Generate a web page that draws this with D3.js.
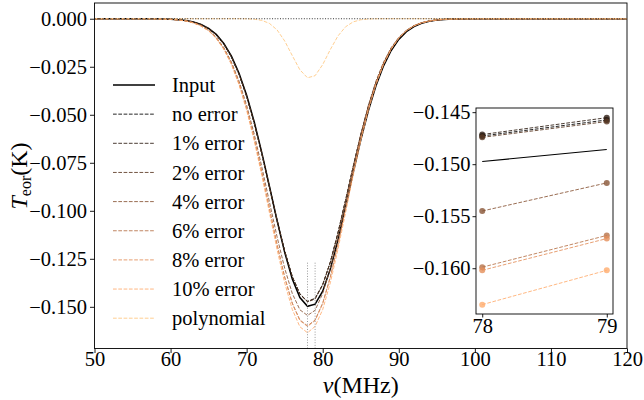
<!DOCTYPE html>
<html><head><meta charset="utf-8">
<script src="https://cdn.jsdelivr.net/npm/d3@7"></script>
<style>
body{margin:0;background:#fff}
svg{display:block}
text{font-family:"Liberation Serif","Times New Roman",serif;fill:#000}
</style>
</head><body>
<svg id="chart" width="644" height="400"></svg>
<script>
// ---------- data ----------
const freq = [50,51,52,53,54,55,56,57,58,59,60,61,62,63,64,65,66,67,68,69,70,71,72,73,74,75,76,77,78,79,80,81,82,83,84,85,86,87,88,89,90,91,92,93,94,95,96,97,98,99,100,101,102,103,104,105,106,107,108,109,110,111,112,113,114,115,116,117,118,119,120];

const inputT = [0,0,0,0,0,0,0,0,
 -0.00005,-0.00012,-0.00024,-0.00047,-0.0009,-0.00165,-0.00293,-0.00498,-0.00815,-0.01284,-0.01945,-0.02838,-0.03981,-0.05377,-0.06986,-0.08734,-0.10507,-0.12162,-0.13548,-0.1452,-0.14974,-0.14859,-0.14188,-0.13036,-0.11525,-0.09804,-0.08025,-0.0632,-0.0479,-0.03493,-0.02451,-0.01655,-0.01075,-0.00672,-0.00404,-0.00234,-0.0013,-0.0007,-0.00036,-0.00018,-0.00009,-0.00004,
 0,0,0,0,0,0,0,0,0,0,0,0,0,0,0,0,0,0,0,0,0];

const noError = [0,0,0,0,0,0,0,0,
 -0.00006,-0.00012,-0.00025,-0.0005,-0.00094,-0.00172,-0.00304,-0.00515,-0.00839,-0.01317,-0.01989,-0.02889,-0.04039,-0.05433,-0.07032,-0.08758,-0.10495,-0.12103,-0.13429,-0.14337,-0.14729,-0.14575,-0.13849,-0.12675,-0.11162,-0.09459,-0.07713,-0.06052,-0.04569,-0.03319,-0.0232,-0.0156,-0.0101,-0.00629,-0.00377,-0.00217,-0.00121,-0.00064,-0.00033,-0.00016,-0.00008,-0.00004,
 0,0,0,0,0,0,0,0,0,0,0,0,0,0,0,0,0,0,0,0,0];

const err1 = [0,0,0,0,0,0,0,0,
 -0.00006,-0.00012,-0.00025,-0.0005,-0.00094,-0.00172,-0.00304,-0.00515,-0.00839,-0.01317,-0.01989,-0.02889,-0.04039,-0.05433,-0.07032,-0.08758,-0.10495,-0.12103,-0.13429,-0.14322,-0.14715,-0.14553,-0.1383,-0.12675,-0.11162,-0.09459,-0.07713,-0.06052,-0.04569,-0.03319,-0.0232,-0.0156,-0.0101,-0.00629,-0.00377,-0.00217,-0.00121,-0.00064,-0.00033,-0.00016,-0.00008,-0.00004,
 0,0,0,0,0,0,0,0,0,0,0,0,0,0,0,0,0,0,0,0,0];

const err2 = [0,0,0,0,0,0,0,0,
 -0.00006,-0.00012,-0.00025,-0.0005,-0.00094,-0.00172,-0.00304,-0.00515,-0.00839,-0.01317,-0.01989,-0.02889,-0.04039,-0.05433,-0.07032,-0.08758,-0.10495,-0.12103,-0.13429,-0.1435,-0.14742,-0.1459,-0.13865,-0.12675,-0.11162,-0.09459,-0.07713,-0.06052,-0.04569,-0.03319,-0.0232,-0.0156,-0.0101,-0.00629,-0.00377,-0.00217,-0.00121,-0.00064,-0.00033,-0.00016,-0.00008,-0.00004,
 0,0,0,0,0,0,0,0,0,0,0,0,0,0,0,0,0,0,0,0,0];

const err4 = [0,0,0,0,0,0,0,0,
 -0.00007,-0.00015,-0.0003,-0.00059,-0.00112,-0.00203,-0.00355,-0.00597,-0.00966,-0.01504,-0.02253,-0.03248,-0.04506,-0.06015,-0.07725,-0.09547,-0.11354,-0.12992,-0.14305,-0.15155,-0.1545,-0.1518,-0.14305,-0.12992,-0.11354,-0.09547,-0.07725,-0.06015,-0.04506,-0.03248,-0.02253,-0.01504,-0.00966,-0.00597,-0.00355,-0.00203,-0.00112,-0.00059,-0.0003,-0.00015,-0.00007,-0.00003,
 0,0,0,0,0,0,0,0,0,0,0,0,0,0,0,0,0,0,0,0,0];

const err6 = [0,0,0,0,0,0,0,0,
 -0.00007,-0.00015,-0.00031,-0.00061,-0.00116,-0.0021,-0.00367,-0.00618,-0.01,-0.01557,-0.02332,-0.03362,-0.04664,-0.06225,-0.07995,-0.09881,-0.11751,-0.13446,-0.14805,-0.15685,-0.1599,-0.15685,-0.14805,-0.13446,-0.11751,-0.09881,-0.07995,-0.06225,-0.04664,-0.03362,-0.02332,-0.01557,-0.01,-0.00618,-0.00367,-0.0021,-0.00116,-0.00061,-0.00031,-0.00015,-0.00007,-0.00003,
 0,0,0,0,0,0,0,0,0,0,0,0,0,0,0,0,0,0,0,0,0];

const err8 = [0,0,0,0,0,0,0,0,
 -0.00007,-0.00015,-0.00031,-0.00061,-0.00116,-0.00211,-0.00368,-0.00619,-0.01002,-0.0156,-0.02336,-0.03368,-0.04673,-0.06236,-0.0801,-0.099,-0.11773,-0.13471,-0.14833,-0.15715,-0.1602,-0.15715,-0.14833,-0.13471,-0.11773,-0.099,-0.0801,-0.06236,-0.04673,-0.03368,-0.02336,-0.0156,-0.01002,-0.00619,-0.00368,-0.00211,-0.00116,-0.00061,-0.00031,-0.00015,-0.00007,-0.00003,
 0,0,0,0,0,0,0,0,0,0,0,0,0,0,0,0,0,0,0,0,0];

const err10 = [0,0,0,0,0,0,0,0,
 -0.00007,-0.00016,-0.00032,-0.00063,-0.00118,-0.00215,-0.00376,-0.00632,-0.01022,-0.01592,-0.02384,-0.03438,-0.04769,-0.06365,-0.08175,-0.10104,-0.12015,-0.13749,-0.15138,-0.16038,-0.1635,-0.1602,-0.15138,-0.13749,-0.12015,-0.10104,-0.08175,-0.06365,-0.04769,-0.03438,-0.02384,-0.01592,-0.01022,-0.00632,-0.00376,-0.00215,-0.00118,-0.00063,-0.00032,-0.00016,-0.00007,-0.00003,
 0,0,0,0,0,0,0,0,0,0,0,0,0,0,0,0,0,0,0,0,0];

const polynomial = [0,0,0,0,0,0,0,0,0,0,0,0,0,0,0,0,0,0,0,0,
 -0.00006,-0.00025,-0.00085,-0.00244,-0.00581,-0.01157,-0.0192,-0.0266,-0.03075,-0.02965,-0.02386,-0.01602,-0.00898,-0.0042,-0.00164,-0.00053,-0.00014,-0.00003,
 0,0,0,0,0,0,0,0,0,0,0,0,0,0,0,0,0,0,0,0,0,0,0,0,0,0,0,0,0,0,0,0,0];

const seriesNames = ["no error","1% error","2% error","4% error","6% error","8% error","10% error","polynomial"];
const seriesValues = [noError, err1, err2, err4, err6, err8, err10, polynomial];
const inputName = "Input";

const xTicks = [50,60,70,80,90,100,110,120];
const yTicks = [0,-0.025,-0.05,-0.075,-0.1,-0.125,-0.15];
const insetXTicks = [78,79];
const insetYTicks = [-0.145,-0.15,-0.155,-0.16];
const markFreqs = [78,79];

// ---------- styles ----------
const seriesColors = ["#000000","#2d1c12","#5b3924","#885536","#b67248","#e38e5a","#ffab6d","#ffc77f"];
const FONT = 20.5;

const svg = d3.select("#chart");
const x = d3.scaleLinear().domain([50,120]).range([94.5,627]);
const y = d3.scaleLinear().domain([-0.1717,0.0082]).range([348.5,3]);

const pts = vals => freq.map((f,i)=>[f, vals[i]]);
const line = d3.line().x(d=>x(d[0])).y(d=>y(d[1]));

const main = svg.append("g");
// input
main.append("path").attr("d",line(pts(inputT))).attr("fill","none").attr("stroke","#000").attr("stroke-width",1.5);
seriesValues.forEach((v,k)=>{
  main.append("path").attr("d",line(pts(v))).attr("fill","none").attr("stroke",seriesColors[k])
    .attr("stroke-width",1).attr("stroke-dasharray","3.7,1.6").attr("opacity",0.85);
});
// reference lines (on top)
main.append("line").attr("x1",x(50)).attr("x2",x(120)).attr("y1",y(0)).attr("y2",y(0))
  .attr("stroke","#333").attr("stroke-width",1).attr("stroke-dasharray","1,1.65");
markFreqs.forEach(f=>{
  main.append("line").attr("x1",x(f)).attr("x2",x(f)).attr("y1",y.range()[0]).attr("y2",y.range()[0]-(y.range()[0]-y.range()[1])*0.25)
    .attr("stroke","#999").attr("stroke-width",1).attr("stroke-dasharray","1,1.65");
});

// axes
const xAxis = svg.append("g").attr("transform",`translate(0,${y.range()[0]})`)
  .call(d3.axisBottom(x).tickValues(xTicks).tickSize(4.5).tickPadding(4).tickFormat(d3.format("d")));
xAxis.selectAll("text").attr("y",3);
const yAxis = svg.append("g").attr("transform",`translate(${x.range()[0]},0)`)
  .call(d3.axisLeft(y).tickValues(yTicks).tickSize(4.5).tickPadding(3).tickFormat(d3.format(".3f")));
[xAxis,yAxis].forEach(a=>{
  a.select(".domain").remove();
  a.selectAll("text").attr("font-size",FONT).attr("font-family","Liberation Serif");
  a.selectAll("line").attr("stroke","#000").attr("stroke-width",0.9);
});
svg.append("rect").attr("x",x.range()[0]).attr("y",y.range()[1]).attr("width",x.range()[1]-x.range()[0])
  .attr("height",y.range()[0]-y.range()[1]).attr("fill","none").attr("stroke","#000").attr("stroke-width",0.9);

// axis labels
svg.append("text").attr("x",(x.range()[0]+x.range()[1])/2).attr("y",393).attr("text-anchor","middle")
  .attr("font-size",24).html('<tspan font-style="italic">ν</tspan>(MHz)');
svg.append("text").attr("transform","translate(27,176) rotate(-90)").attr("text-anchor","middle")
  .attr("font-size",24).html('<tspan font-style="italic">T</tspan><tspan font-size="16" dy="4">eor</tspan><tspan dy="-4">(K)</tspan>');

// legend
const legNames = [inputName].concat(seriesNames);
legNames.forEach((n,i)=>{
  const ly = 85 + i*29.15;
  const g = svg.append("g");
  const l = g.append("line").attr("x1",113).attr("x2",155).attr("y1",ly).attr("y2",ly);
  if(i===0) l.attr("stroke","#000").attr("stroke-width",1.5);
  else l.attr("stroke",seriesColors[i-1]).attr("stroke-width",1).attr("stroke-dasharray","3.7,1.6").attr("opacity",0.85);
  g.append("text").attr("x",172).attr("y",ly).attr("dy","0.35em").attr("font-size",FONT).text(n);
});

// inset
const ix = d3.scaleLinear().domain([77.95,79.05]).range([476,613]);
const iy = d3.scaleLinear().domain([-0.1644,-0.1446]).range([314,108]);
const ins = svg.append("g");
ins.append("rect").attr("x",476).attr("y",108).attr("width",137).attr("height",206).attr("fill","#fff");
const iline = d3.line().x(d=>ix(d[0])).y(d=>iy(d[1]));
const sub = vals => freq.map((f,i)=>[f,vals[i]]).filter(d=>markFreqs.includes(d[0]));
ins.append("path").attr("d",iline(sub(inputT))).attr("fill","none").attr("stroke","#000").attr("stroke-width",1.2);
seriesValues.slice(0,7).forEach((v,k)=>{
  const p = sub(v);
  ins.append("path").attr("d",iline(p)).attr("fill","none").attr("stroke",seriesColors[k])
    .attr("stroke-width",1).attr("stroke-dasharray","3.7,1.6").attr("opacity",0.85);
  ins.selectAll(null).data(p).enter().append("circle").attr("cx",d=>ix(d[0])).attr("cy",d=>iy(d[1]))
    .attr("r",3).attr("fill",seriesColors[k]).attr("opacity",0.8);
});
const ixa = ins.append("g").attr("transform","translate(0,314)")
  .call(d3.axisBottom(ix).tickValues(insetXTicks).tickSize(3.5).tickPadding(3).tickFormat(d3.format("d")));
ixa.selectAll("text").attr("y",4);
const iya = ins.append("g").attr("transform","translate(476,0)")
  .call(d3.axisLeft(iy).tickValues(insetYTicks).tickSize(3.5).tickPadding(2).tickFormat(d3.format(".3f")));
[ixa,iya].forEach(a=>{
  a.select(".domain").remove();
  a.selectAll("text").attr("font-size",FONT).attr("font-family","Liberation Serif");
  a.selectAll("line").attr("stroke","#000").attr("stroke-width",0.9);
});
ins.append("rect").attr("x",476).attr("y",108).attr("width",137).attr("height",206).attr("fill","none")
  .attr("stroke","#000").attr("stroke-width",0.9);
</script>
</body></html>
